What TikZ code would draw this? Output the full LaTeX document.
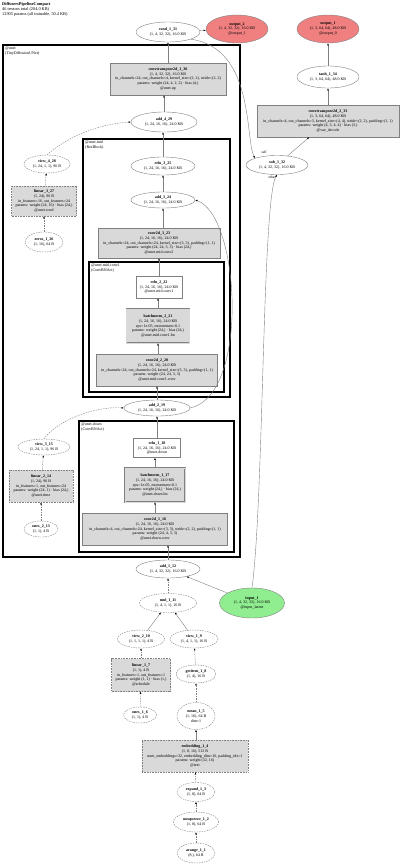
\documentclass[tikz,border=0pt]{standalone}
\usepackage{fontspec}
\setmainfont{Liberation Serif}
\usepackage{tikz}
\usetikzlibrary{arrows.meta,shapes.geometric}

\definecolor{inputgreen}{RGB}{144,238,144}
\definecolor{outputred}{RGB}{240,128,128}
\definecolor{layergray}{RGB}{217,217,217}
\definecolor{linegray}{RGB}{128,128,128}

\tikzset{
  tensor/.style={ellipse, draw=linegray, line width=0.4pt, inner sep=0pt, align=center,
    font=\fontsize{4}{4.9}\selectfont},
  consttensor/.style={tensor, dash pattern=on 1.5pt off 1pt},
  layer/.style={rectangle, draw=linegray, fill=layergray, line width=0.4pt, inner sep=0.5pt,
    align=center, font=\fontsize{4}{4.9}\selectfont},
  constlayer/.style={layer, dash pattern=on 0.8pt off 0.8pt},
  bnlayer/.style={layer, double=layergray, double distance=0.9pt},
  actlayer/.style={layer, fill=white},
  inputtensor/.style={tensor, fill=inputgreen},
  outputtensor/.style={tensor, fill=outputred},
  cluster/.style={draw=black, line width=1.1pt},
  clusterlabel/.style={anchor=north west, align=left, inner sep=0pt, font=\fontsize{4}{4.6}\selectfont},
  flow/.style={draw=linegray, line width=0.4pt, -{Latex[length=2.2pt,width=1.8pt,color=black]}},
  constflow/.style={flow, dash pattern=on 1.5pt off 1pt},
  port/.style={inner sep=0pt, font=\fontsize{3.6}{4}\selectfont},
}

\begin{document}
\begin{tikzpicture}[x=1pt, y=-1pt]
\useasboundingbox (0,0) rectangle (400,865);

\node[anchor=north west, align=left, inner sep=0pt, font=\fontsize{4.3}{5}\selectfont] (title) at (2,2)
  {\textbf{DiffusersPipelineCompact}\\46 tensors total (204.0 KB)\\12905 params (all trainable, 50.4 KB)};

% clusters
\draw[cluster] (3,45) rectangle (240,557);
\node[clusterlabel] (unetlbl) at (5,47) {@unet\\(TinyDiffusionUNet)};
\draw[cluster] (83,139) rectangle (230,397);
\node[clusterlabel] (midlbl) at (85,141) {@unet.mid\\(ResBlock)};
\draw[cluster] (89,262) rectangle (224,392);
\node[clusterlabel] (convlbl) at (91,264) {@unet.mid.conv1\\(ConvBNAct)};
\draw[cluster] (79,421) rectangle (234,552);
\node[clusterlabel] (downlbl) at (81,423) {@unet.down\\(ConvBNAct)};

% outputs and decoder
\node[outputtensor, minimum width=62, minimum height=28] (out2) at (237,29)
  {\textbf{output\_2}\\(1, 4, 32, 32), 16.0 KB\\@output\_1};
\node[outputtensor, minimum width=62, minimum height=28] (out1) at (328,29)
  {\textbf{output\_1}\\(1, 3, 64, 64), 48.0 KB\\@output\_0};
\node[tensor, minimum width=64, minimum height=20] (cond131) at (168,32)
  {\textbf{cond\_1\_31}\\(1, 4, 32, 32), 16.0 KB};
\node[tensor, minimum width=62, minimum height=22] (tanh134) at (328,77)
  {\textbf{tanh\_1\_34}\\(1, 3, 64, 64), 48.0 KB};
\node[layer, minimum width=142, minimum height=32] (ct233) at (328,121)
  {\textbf{convtranspose2d\_2\_33}\\(1, 3, 64, 64), 48.0 KB\\in\_channels=4, out\_channels=3, kernel\_size=(4, 4), stride=(2, 2), padding=(1, 1)\\params: weight (4, 3, 4, 4) · bias (3,)\\@vae\_decode};
\node[tensor, minimum width=62, minimum height=19] (sub132) at (277,165)
  {\textbf{sub\_1\_32}\\(1, 4, 32, 32), 16.0 KB};
\node[port] (selflbl) at ([shift={(-13,-3)}]sub132.north) {self};
\node[port] (otherlbl) at ([shift={(-5,3)}]sub132.south) {other};

% unet
\node[layer, minimum width=116, minimum height=32] (ct130) at (168,79)
  {\textbf{convtranspose2d\_1\_30}\\(1, 4, 32, 32), 16.0 KB\\in\_channels=24, out\_channels=4, kernel\_size=(2, 2), stride=(2, 2)\\params: weight (24, 4, 2, 2) · bias (4,)\\@unet.up};
\node[tensor, minimum width=66, minimum height=20] (add429) at (164,122)
  {\textbf{add\_4\_29}\\(1, 24, 16, 16), 24.0 KB};
\node[tensor, minimum width=64, minimum height=18] (relu325) at (163,166)
  {\textbf{relu\_3\_25}\\(1, 24, 16, 16), 24.0 KB};
\node[tensor, minimum width=64, minimum height=16] (add324) at (163,200)
  {\textbf{add\_3\_24}\\(1, 24, 16, 16), 24.0 KB};
\node[layer, minimum width=122, minimum height=30] (conv323) at (159,243)
  {\textbf{conv2d\_3\_23}\\(1, 24, 16, 16), 24.0 KB\\in\_channels=24, out\_channels=24, kernel\_size=(3, 3), padding=(1, 1)\\params: weight (24, 24, 3, 3) · bias (24,)\\@unet.mid.conv2};
\node[actlayer, minimum width=46, minimum height=22] (relu222) at (159,287)
  {\textbf{relu\_2\_22}\\(1, 24, 16, 16), 24.0 KB\\@unet.mid.conv1};
\node[bnlayer, minimum width=63, minimum height=34] (bn221) at (158,326)
  {\textbf{batchnorm\_2\_21}\\(1, 24, 16, 16), 24.0 KB\\eps=1e-05, momentum=0.1\\params: weight (24,) · bias (24,)\\@unet.mid.conv1.bn};
\node[layer, minimum width=121, minimum height=32] (conv220) at (157,370)
  {\textbf{conv2d\_2\_20}\\(1, 24, 16, 16), 24.0 KB\\in\_channels=24, out\_channels=24, kernel\_size=(3, 3), padding=(1, 1)\\params: weight (24, 24, 3, 3)\\@unet.mid.conv1.conv};
\node[tensor, minimum width=66, minimum height=16] (add219) at (157,408)
  {\textbf{add\_2\_19}\\(1, 24, 16, 16), 24.0 KB};
\node[actlayer, minimum width=47, minimum height=19] (relu118) at (157,448)
  {\textbf{relu\_1\_18}\\(1, 24, 16, 16), 24.0 KB\\@unet.down};
\node[bnlayer, minimum width=60, minimum height=34] (bn117) at (155,485)
  {\textbf{batchnorm\_1\_17}\\(1, 24, 16, 16), 24.0 KB\\eps=1e-05, momentum=0.1\\params: weight (24,) · bias (24,)\\@unet.down.bn};
\node[layer, minimum width=145, minimum height=32] (conv216) at (155,529)
  {\textbf{conv2d\_1\_16}\\(1, 24, 16, 16), 24.0 KB\\in\_channels=4, out\_channels=24, kernel\_size=(3, 3), stride=(2, 2), padding=(1, 1)\\params: weight (24, 4, 3, 3)\\@unet.down.conv};

\node[consttensor, minimum width=46, minimum height=18] (view428) at (47,164)
  {\textbf{view\_4\_28}\\(1, 24, 1, 1), 96 B};
\node[constlayer, minimum width=65, minimum height=30] (lin327) at (44,201)
  {\textbf{linear\_3\_27}\\(1, 24), 96 B\\in\_features=16, out\_features=24\\params: weight (24, 16) · bias (24,)\\@unet.cond};
\node[consttensor, minimum width=38, minimum height=20] (zeros126) at (44,242)
  {\textbf{zeros\_1\_26}\\(1, 16), 64 B};
\node[consttensor, minimum width=52, minimum height=16] (view315) at (44,447)
  {\textbf{view\_3\_15}\\(1, 24, 1, 1), 96 B};
\node[constlayer, minimum width=64, minimum height=32] (lin214) at (41,486)
  {\textbf{linear\_2\_14}\\(1, 24), 96 B\\in\_features=1, out\_features=24\\params: weight (24, 1) · bias (24,)\\@unet.time};
\node[consttensor, minimum width=34, minimum height=16] (ones213) at (41,529)
  {\textbf{ones\_2\_13}\\(1, 1), 4 B};

% below the unet
\node[tensor, minimum width=64, minimum height=18] (add112) at (168,569)
  {\textbf{add\_1\_12}\\(1, 4, 32, 32), 16.0 KB};
\node[inputtensor, minimum width=65, minimum height=30] (inp1) at (252,603)
  {\textbf{input\_1}\\(1, 4, 32, 32), 16.0 KB\\@input\_latent};
\node[consttensor, minimum width=57, minimum height=19] (mul111) at (168,603)
  {\textbf{mul\_1\_11}\\(1, 4, 1, 1), 16 B};
\node[consttensor, minimum width=47, minimum height=18] (view210) at (141,639)
  {\textbf{view\_2\_10}\\(1, 1, 1, 1), 4 B};
\node[consttensor, minimum width=48, minimum height=18] (view19) at (194,639)
  {\textbf{view\_1\_9}\\(1, 4, 1, 1), 16 B};
\node[constlayer, minimum width=59, minimum height=33] (lin17) at (141,675)
  {\textbf{linear\_1\_7}\\(1, 1), 4 B\\in\_features=1, out\_features=1\\params: weight (1, 1) · bias (1,)\\@schedule};
\node[consttensor, minimum width=40, minimum height=18] (getitem18) at (196,674)
  {\textbf{getitem\_1\_8}\\(1, 4), 16 B};
\node[consttensor, minimum width=33, minimum height=16] (ones16) at (140,715)
  {\textbf{ones\_1\_6}\\(1, 1), 4 B};
\node[consttensor, minimum width=38, minimum height=27] (mean15) at (196,716)
  {\textbf{mean\_1\_5}\\(1, 16), 64 B\\dim=1};
\node[constlayer, minimum width=106, minimum height=32] (emb14) at (195,756)
  {\textbf{embedding\_1\_4}\\(1, 8, 16), 512 B\\num\_embeddings=32, embedding\_dim=16, padding\_idx=1\\params: weight (32, 16)\\@text};
\node[consttensor, minimum width=38, minimum height=19] (expand13) at (196,792)
  {\textbf{expand\_1\_3}\\(1, 8), 64 B};
\node[consttensor, minimum width=45, minimum height=20] (unsq12) at (196,822)
  {\textbf{unsqueeze\_1\_2}\\(1, 8), 64 B};
\node[consttensor, minimum width=38, minimum height=20] (arange11) at (196,853)
  {\textbf{arange\_1\_1}\\(8,), 64 B};

% edges
\draw[constflow] (arange11) -- (unsq12);
\draw[constflow] (unsq12) -- (expand13);
\draw[constflow] (expand13) -- (emb14);
\draw[flow] (emb14.north -| mean15) -- (mean15);
\draw[constflow] (mean15) -- (getitem18);
\draw[constflow] (getitem18) -- (view19);
\draw[constflow] (ones16) -- (lin17);
\draw[constflow] (lin17) -- (view210);
\draw[flow] (view210) -- (mul111);
\draw[flow] (view19) -- (mul111);
\draw[constflow] (mul111) -- (add112);
\draw[flow] (inp1) -- (add112);
\draw[flow] (add112.north) -- (add112.north |- conv216.south);
\draw[flow] (conv216.north -| bn117) -- (bn117);
\draw[flow] (bn117) -- (bn117 |- relu118.south);
\draw[flow] (relu118.north) -- (relu118.north |- add219.south);
\draw[constflow] (ones213) -- (lin214);
\draw[constflow] (lin214) -- (view315);
\draw[constflow] (view315.north) .. controls (58,420) and (95,406) .. (add219.west);
\draw[flow] (add219.north) -- (add219.north |- conv220.south);
\draw[flow] (conv220.north -| bn221) -- (bn221);
\draw[flow] (bn221) -- (bn221 |- relu222.south);
\draw[flow] (relu222.north) -- (relu222.north |- conv323.south);
\draw[flow] (add219.east) .. controls (250,395) and (240,215) .. (add324.east);
\draw[flow] (conv323.north -| add324) -- (add324);
\draw[flow] (add324) -- (relu325);
\draw[flow] (relu325.north) -- (relu325.north |- add429.south);
\draw[constflow] (zeros126) -- (lin327);
\draw[constflow] (lin327) -- (view428);
\draw[constflow] (view428.north) .. controls (70,135) and (100,124) .. (add429.west);
\draw[flow] (add429.north) -- (add429.north |- ct130.south);
\draw[flow] (ct130.north -| cond131) -- (cond131);
\draw[flow] (cond131) -- (out2);
\draw[flow] (cond131.south east) .. controls (255,48) and (245,140) .. (sub132.north west);
\draw[flow] (inp1.north) .. controls (264,500) and (262,200) .. (sub132.south);
\draw[flow] (sub132) -- (ct233);
\draw[flow] (ct233.north -| tanh134) -- (tanh134);
\draw[flow] (tanh134) -- (out1);
\end{tikzpicture}
\end{document}
